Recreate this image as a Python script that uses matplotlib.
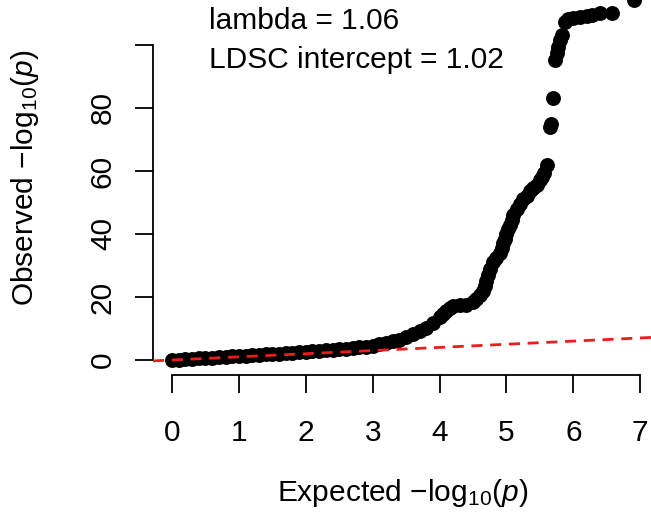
import matplotlib
matplotlib.use("Agg")
import matplotlib.pyplot as plt

plt.rcParams["font.family"] = ["Liberation Sans", "DejaVu Sans"]
plt.rcParams["mathtext.fontset"] = "custom"
plt.rcParams["mathtext.rm"] = "Liberation Sans"
plt.rcParams["mathtext.it"] = "Liberation Sans:italic"
plt.rcParams["lines.scale_dashes"] = False

# expected vs observed -log10(p) quantiles
expected = [
    0.0, 0.1, 0.2, 0.3, 0.4, 0.5, 0.6, 0.7, 0.8, 0.9,
    1.0, 1.1, 1.2, 1.3, 1.4, 1.5, 1.6, 1.7, 1.8, 1.9,
    2.0, 2.1, 2.2, 2.3, 2.4, 2.5, 2.6, 2.7, 2.8, 2.9,
    3.0, 3.1, 3.2, 3.3, 3.4, 3.5, 3.6, 3.7, 3.8, 3.9,
    4.0, 4.05, 4.1, 4.15, 4.2, 4.3, 4.4, 4.5, 4.55, 4.6,
    4.65, 4.68, 4.7, 4.72, 4.75, 4.8, 4.85, 4.9, 4.93, 4.95,
    4.98, 5.0, 5.03, 5.05, 5.08, 5.1, 5.15, 5.2, 5.25, 5.3,
    5.35, 5.4, 5.45, 5.5, 5.53, 5.56, 5.6, 5.65, 5.66, 5.70,
    5.72, 5.75, 5.77, 5.80, 5.83, 5.87, 5.92, 6.0, 6.1, 6.2,
    6.28, 6.4, 6.58, 6.9,
]
observed = [
    0.0, 0.12, 0.25, 0.37, 0.5, 0.63, 0.76, 0.89, 1.02, 1.15,
    1.28, 1.41, 1.54, 1.67, 1.8, 1.93, 2.06, 2.19, 2.32, 2.45,
    2.6, 2.75, 2.9, 3.05, 3.2, 3.35, 3.55, 3.75, 4.0, 4.25,
    4.55, 4.95, 5.4, 5.9, 6.5, 7.2, 8.1, 9.1, 10.3, 11.8,
    13.6, 14.7, 15.7, 16.5, 17.0, 17.4, 17.6, 18.5, 19.3, 20.5,
    22.0, 23.5, 25.0, 27.0, 29.0, 31.0, 32.5, 34.0, 35.5, 37.0,
    38.5, 40.0, 41.5, 43.0, 44.5, 46.0, 48.0, 49.5, 51.0, 52.0,
    53.5, 54.6, 55.5, 57.0, 58.0, 59.5, 61.9, 74.0, 75.0, 83.2,
    95.2, 97.5, 99.4, 101.5, 103.2, 107.3, 108.4, 108.6, 108.8, 109.2,
    109.5, 110.2, 110.3, 114.2,
]
x_ticks = [0, 1, 2, 3, 4, 5, 6, 7]
y_ticks = [0, 20, 40, 60, 80, 100]
y_tick_labels = ["0", "20", "40", "60", "80", ""]
annotation = ["lambda = 1.06", "LDSC intercept = 1.02"]

FS = 21.5
W, H = 651, 515
fig = plt.figure(figsize=(W / 100, H / 100), dpi=100)
ax = fig.add_axes([153 / W, 140 / H, 506 / W, 405 / H])
ax.set_xlim(-0.284, 7.28)
ax.set_ylim(-4.76, 123.8)

ax.scatter(expected, observed, s=115, color="black", linewidths=0, zorder=2)
ax.plot([-0.284, 7.28], [-0.284, 7.28], color="#ea1d1d", lw=2.0,
        dashes=(8, 5.5), zorder=3)

for sp in ["top", "right"]:
    ax.spines[sp].set_visible(False)
ax.spines["bottom"].set_bounds(0, 7)
ax.spines["left"].set_bounds(0, 100)
for sp in ["bottom", "left"]:
    ax.spines[sp].set_linewidth(1.3)

ax.set_xticks(x_ticks)
ax.set_yticks(y_ticks)
ax.set_yticklabels(y_tick_labels)
ax.tick_params(axis="both", length=13, width=1.3, labelsize=FS)
ax.tick_params(axis="x", pad=19)
ax.tick_params(axis="y", pad=13)
for lab in ax.get_yticklabels():
    lab.set_rotation(90)
    lab.set_va("center")

ax.text(0.55, 107.5, annotation[0], fontsize=FS, va="center", ha="left")
ax.text(0.55, 95.3, annotation[1], fontsize=FS, va="center", ha="left")

fig.text(403 / W, 1 - 493 / H, r"Expected $-\mathrm{log}_{10}(p)$", fontsize=FS,
         ha="center", va="center")
fig.text(25 / W, 1 - 178 / H, r"Observed $-\mathrm{log}_{10}(p)$", fontsize=FS,
         ha="center", va="center", rotation=90)

fig.savefig("out.png", dpi=100)
